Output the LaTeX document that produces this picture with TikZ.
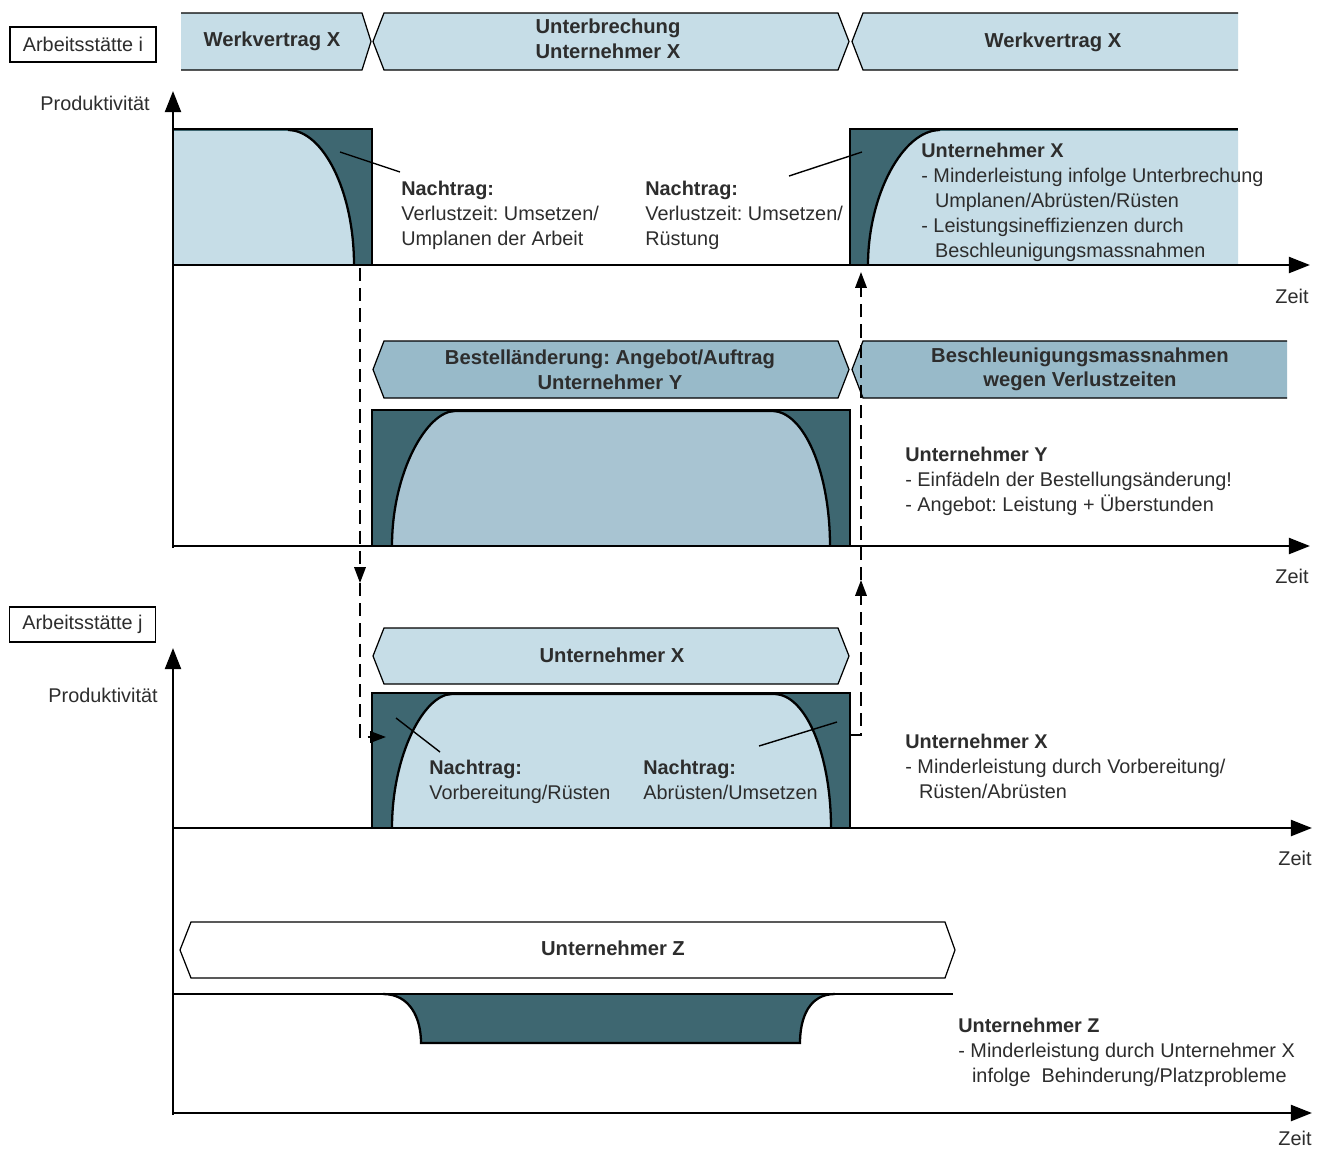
\documentclass[tikz,border=0pt]{standalone}
\usepackage{fontspec}
\setmainfont{Liberation Sans}
\usetikzlibrary{arrows.meta}
\frenchspacing

\definecolor{bandlight}{RGB}{198,221,231}
\definecolor{bandmid}{RGB}{152,186,201}
\definecolor{fillmid}{RGB}{168,196,210}
\definecolor{darkteal}{RGB}{62,103,113}
\definecolor{inkgray}{RGB}{45,45,45}

\begin{document}
\begin{tikzpicture}[x=0.02cm,y=-0.02cm,
  txt/.style={font=\fontsize{11.3}{14.2}\selectfont, text=inkgray, inner sep=0pt, align=left, anchor=north west},
  bandtxt/.style={font=\bfseries\fontsize{11.5}{14}\selectfont, text=inkgray, inner sep=0pt, align=center},
  axisline/.style={line width=1.6pt, -{Triangle[length=12pt,width=9pt]}},
  blockline/.style={line width=1.6pt},
  curveline/.style={line width=1.3pt},
  bandline/.style={line width=0.7pt},
  leader/.style={line width=0.8pt},
  dasharrow/.style={line width=1.1pt, dash pattern=on 7.5pt off 4pt, -{Triangle[length=9pt,width=6.5pt]}},
  sitebox/.style={draw, line width=0.6pt, inner sep=0pt, minimum width=2.92cm, minimum height=0.7cm,
    font=\fontsize{11.3}{14}\selectfont, text=inkgray},
]
\useasboundingbox (0,0) rectangle (1325,1150);
\fill[white] (0,0) rectangle (1325,1150);

% ---------------- Arbeitsstaette i ----------------
\node[sitebox] (site-i) at (83,44.5) {Arbeitsstätte i};

% phase bands
\fill[bandlight] (181,13) -- (362,13) -- (371,41.5) -- (362,70) -- (181,70) -- cycle;
\draw[bandline] (181,13) -- (362,13) -- (371,41.5) -- (362,70) -- (181,70);
\fill[bandlight] (384,13) -- (838,13) -- (849,41.5) -- (838,70) -- (384,70) -- (373,41.5) -- cycle;
\draw[bandline] (384,13) -- (838,13) -- (849,41.5) -- (838,70) -- (384,70) -- (373,41.5) -- cycle;
\fill[bandlight] (863,13) -- (1238,13) -- (1238,70) -- (863,70) -- (852,41.5) -- cycle;
\draw[bandline] (1238,13) -- (863,13) -- (852,41.5) -- (863,70) -- (1238,70);
\node[bandtxt] (band-wv1) at (272,41.5) {Werkvertrag X};
\node[bandtxt] (band-ub) at (608,39) {Unterbrechung\\Unternehmer X};
\node[bandtxt] (band-wv2) at (1053,42) {Werkvertrag X};

% productivity block before the interruption
\fill[darkteal] (173,129) rectangle (372,265);
\fill[bandlight] (173,131) -- (288,131) .. controls (323,131) and (354,191) .. (354,265) -- (173,265) -- cycle;
\draw[curveline] (288,130) .. controls (323,130) and (354,191) .. (354,265);
\draw[blockline] (173,129) -- (372,129) -- (372,265);

% productivity block after the interruption
\fill[darkteal] (850,129) rectangle (1238,265);
\fill[bandlight] (1238,131) -- (940,131) .. controls (903,131) and (868,195) .. (868,265) -- (1238,265) -- cycle;
\draw[curveline] (940,130) .. controls (903,130) and (868,195) .. (868,265);
\draw[blockline] (850,265) -- (850,129) -- (1238,129);

% axes
\draw[axisline] (173,548) -- (173,91);
\draw[axisline] (172,265) -- (1310,265);
\node[txt, anchor=north east] (prod-i) at (150,96) {Produktivität};
\node[txt, anchor=center] (zeit-1) at (1292,296) {Zeit};

% annotations
\node[txt] (nt-1) at (401,181) {\textbf{Nachtrag:}\\Verlustzeit: Umsetzen/\\Umplanen der Arbeit};
\node[txt] (nt-2) at (645,181) {\textbf{Nachtrag:}\\Verlustzeit: Umsetzen/\\Rüstung};
\node[txt] (ux-1) at (921,143) {\textbf{Unternehmer X}\\- Minderleistung infolge Unterbrechung\\\hspace*{7.8pt}Umplanen/Abrüsten/Rüsten\\- Leistungsineffizienzen durch\\\hspace*{7.8pt}Beschleunigungsmassnahmen};
\coordinate (l1a) at (340,152);
\coordinate (l1b) at (400,172);
\draw[leader] (l1a) -- (l1b);
\coordinate (l2a) at (789,176);
\coordinate (l2b) at (862,152);
\draw[leader] (l2a) -- (l2b);

% ---------------- Unternehmer Y ----------------
\fill[bandmid] (384,341) -- (838,341) -- (849,369.5) -- (838,398) -- (384,398) -- (373,369.5) -- cycle;
\draw[bandline] (384,341) -- (838,341) -- (849,369.5) -- (838,398) -- (384,398) -- (373,369.5) -- cycle;
\fill[bandmid] (863,341) -- (1287,341) -- (1287,398) -- (863,398) -- (852,369.5) -- cycle;
\draw[bandline] (1287,341) -- (863,341) -- (852,369.5) -- (863,398) -- (1287,398);
\node[bandtxt] (band-bo) at (610,369.5) {Bestelländerung: Angebot/Auftrag\\Unternehmer Y};
\node[bandtxt] (band-bm) at (1080,369.5) {Beschleunigungsmassnahmen\\wegen Verlustzeiten};

\fill[darkteal] (372,410) rectangle (850,546);
\fill[fillmid] (392,546) .. controls (392,472) and (427,412) .. (455,412) -- (772,412) .. controls (804,412) and (830,472) .. (830,546) -- cycle;
\draw[curveline] (392,546) .. controls (392,472) and (427,411) .. (455,411) -- (772,411) .. controls (804,411) and (830,472) .. (830,546);
\draw[blockline] (372,546) -- (372,410) -- (850,410) -- (850,546);
\draw[axisline] (172,546) -- (1310,546);
\node[txt, anchor=center] (zeit-2) at (1292,576) {Zeit};
\node[txt] (uy) at (905,447) {\textbf{Unternehmer Y}\\- Einfädeln der Bestellungsänderung!\\- Angebot: Leistung + Überstunden};

% ---------------- Arbeitsstaette j ----------------
\node[sitebox] (site-j) at (82.5,624.5) {Arbeitsstätte j};
\fill[bandlight] (384,628) -- (838,628) -- (849,656) -- (838,684) -- (384,684) -- (373,656) -- cycle;
\draw[bandline] (384,628) -- (838,628) -- (849,656) -- (838,684) -- (384,684) -- (373,656) -- cycle;
\node[bandtxt] (band-ux) at (612,655) {Unternehmer X};

\fill[darkteal] (372,693) rectangle (850,828);
\fill[bandlight] (392,828) .. controls (392,755) and (424,695) .. (452,695) -- (774,695) .. controls (806,695) and (831,755) .. (831,828) -- cycle;
\draw[curveline] (392,828) .. controls (392,755) and (424,694) .. (452,694) -- (774,694) .. controls (806,694) and (831,755) .. (831,828);
\draw[blockline] (372,828) -- (372,693) -- (850,693) -- (850,828);

\draw[axisline] (173,1115) -- (173,648);
\draw[axisline] (172,828) -- (1312,828);
\node[txt, anchor=north east] (prod-j) at (158,688) {Produktivität};
\node[txt, anchor=center] (zeit-3) at (1295,858) {Zeit};

\node[txt] (nt-3) at (429,760) {\textbf{Nachtrag:}\\Vorbereitung/Rüsten};
\node[txt] (nt-4) at (643,760) {\textbf{Nachtrag:}\\Abrüsten/Umsetzen};
\node[txt] (ux-2) at (905,734) {\textbf{Unternehmer X}\\- Minderleistung durch Vorbereitung/\\\hspace*{7.8pt}Rüsten/Abrüsten};
\coordinate (l3a) at (396,718);
\coordinate (l3b) at (440,752);
\draw[leader] (l3a) -- (l3b);
\coordinate (l4a) at (759,746);
\coordinate (l4b) at (837,722);
\draw[leader] (l4a) -- (l4b);

% ---------------- Unternehmer Z ----------------
\fill[white] (191,922) -- (945,922) -- (955,950) -- (945,978) -- (191,978) -- (180,950) -- cycle;
\draw[bandline] (191,922) -- (945,922) -- (955,950) -- (945,978) -- (191,978) -- (180,950) -- cycle;
\node[bandtxt] (band-uz) at (613,948) {Unternehmer Z};

\fill[darkteal] (383,994) .. controls (410,994) and (421,1018) .. (421,1043) -- (800,1043) .. controls (800,1018) and (809,994) .. (835,994) -- cycle;
\draw[curveline] (383,994) .. controls (410,994) and (421,1018) .. (421,1043) -- (800,1043) .. controls (800,1018) and (809,994) .. (835,994);
\draw[blockline] (173,994) -- (953,994);
\draw[axisline] (172,1113) -- (1312,1113);
\node[txt, anchor=center] (zeit-4) at (1295,1138) {Zeit};
\node[txt] (uz) at (958,1018) {\textbf{Unternehmer Z}\\- Minderleistung durch Unternehmer X\\\hspace*{7.8pt}infolge\ \ Behinderung/Platzprobleme};

% ---------------- transfers between the work sites ----------------
\coordinate (d1) at (360,268);
\coordinate (d2) at (360,583);
\coordinate (d3) at (360,737);
\coordinate (d4) at (386,737);
\draw[dasharrow] (d1) -- (d2);
\draw[dasharrow] (d2) -- (d3) -- (d4);
\coordinate (r0) at (850,735);
\coordinate (r1) at (861,735);
\coordinate (r2) at (861,580);
\coordinate (r3) at (861,272);
\draw[dasharrow] (r0) -- (r1) -- (r2);
\draw[dasharrow] (r2) -- (r3);
\end{tikzpicture}
\end{document}
